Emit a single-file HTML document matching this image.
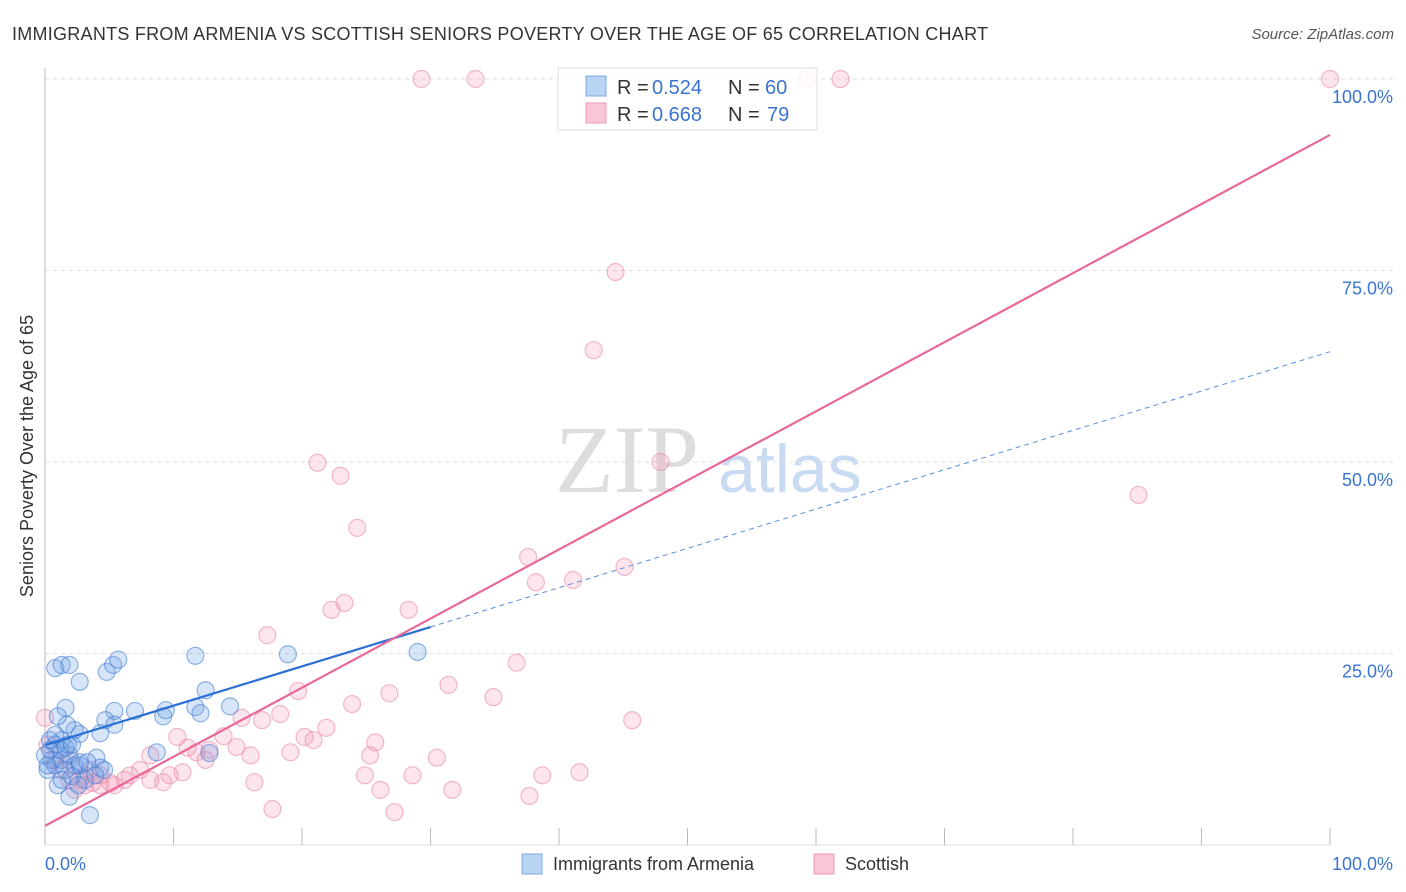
<!DOCTYPE html>
<html><head><meta charset="utf-8"><style>
body{margin:0;background:#fff;font-family:"Liberation Sans",sans-serif;}
#w{position:relative;width:1406px;height:892px;overflow:hidden}
</style></head><body><div id="w">
<svg id="s" width="1406" height="892">
<text x="12" y="40" font-size="18" fill="#333" textLength="976">IMMIGRANTS FROM ARMENIA VS SCOTTISH SENIORS POVERTY OVER THE AGE OF 65 CORRELATION CHART</text>
<text x="1394" y="39" font-size="15" fill="#555" text-anchor="end" font-style="italic">Source: ZipAtlas.com</text>
<text x="33" y="456" font-size="18" fill="#333" text-anchor="middle" transform="rotate(-90 33 456)">Seniors Poverty Over the Age of 65</text>
<text x="555" y="492" font-size="96" fill="#ddd" font-family="Liberation Serif">ZIP</text>
<text x="718" y="492" font-size="68" fill="#c9dbf2">atlas</text>
<g id="grid"></g><g id="pts"></g><g id="lines"></g>
<g>
<rect x="558" y="68" width="259" height="62" fill="#fff" fill-opacity="0.85" stroke="#ddd"/>
<rect x="586" y="76" width="20" height="20" fill="#b9d3f5" stroke="#7fa9e0"/>
<rect x="586" y="103" width="20" height="20" fill="#f9c6d6" stroke="#ee9ab5"/>
<text x="617" y="94" font-size="20" fill="#333">R = </text>
<text x="652" y="94" font-size="20" fill="#3a74d0">0.524</text>
<text x="728" y="94" font-size="20" fill="#333">N = </text>
<text x="765" y="94" font-size="20" fill="#3a74d0">60</text>
<text x="617" y="121" font-size="20" fill="#333">R = </text>
<text x="652" y="121" font-size="20" fill="#3a74d0">0.668</text>
<text x="728" y="121" font-size="20" fill="#333">N = </text>
<text x="767" y="121" font-size="20" fill="#3a74d0">79</text>
</g>
<text x="45" y="870" font-size="18" fill="#3a74d0">0.0%</text>
<text x="1393" y="870" font-size="18" fill="#3a74d0" text-anchor="end">100.0%</text>
<rect x="522" y="854" width="20" height="20" fill="#b9d3f5" stroke="#7fa9e0"/>
<text x="553" y="870" font-size="18" fill="#333">Immigrants from Armenia</text>
<rect x="814" y="854" width="20" height="20" fill="#f9c6d6" stroke="#ee9ab5"/>
<text x="845" y="870" font-size="18" fill="#333">Scottish</text>
</svg></div>
<script>
const yTicks=[25,50,75,100];
const xTicks=[10,20,30,40,50,60,70,80,90,100];
const bluePx=[[55,668],[62,665],[70,665],[80,682],[107,672],[113,665],[118,660],[195,656],[288,654],[418,652],[205,690],[195,707],[200,713],[230,706],[163,716],[166,710],[135,711],[115,711],[106,720],[115,725],[100,733],[80,734],[75,730],[67,725],[65,708],[58,716],[62,740],[55,745],[50,750],[52,760],[48,770],[55,765],[62,760],[70,755],[68,745],[45,755],[97,758],[100,768],[104,770],[85,780],[72,776],[58,785],[70,797],[90,815],[157,752],[210,753],[75,765],[60,750],[50,740],[48,765],[65,770],[80,765],[55,735],[66,748],[72,745],[80,762],[62,780],[78,785],[88,762],[95,775]];
const pinkPx=[[422,79],[475,79],[807,79],[840,79],[1330,79],[615,272],[594,350],[318,463],[340,476],[660,462],[1138,495],[357,528],[528,557],[536,582],[573,580],[624,567],[345,603],[332,610],[409,610],[267,635],[516,663],[298,691],[390,693],[448,685],[493,697],[352,704],[241,718],[262,720],[280,714],[632,720],[327,728],[177,737],[224,736],[314,740],[305,737],[290,752],[210,750],[197,752],[188,748],[237,747],[250,755],[375,742],[370,755],[437,758],[365,775],[413,775],[542,775],[580,772],[183,772],[170,775],[140,770],[130,775],[150,780],[163,782],[125,780],[115,785],[100,785],[110,783],[92,783],[85,775],[80,780],[75,790],[255,782],[380,790],[452,790],[530,796],[273,809],[394,812],[45,718],[48,745],[55,760],[60,770],[70,760],[90,770],[100,775],[70,780],[85,785],[150,755],[205,760]];
const blueX=bluePx.map(p=>+((p[0]-45)/12.85).toFixed(1));
const blueY=bluePx.map(p=>+((845-p[1])/7.66).toFixed(1));
const pinkX=pinkPx.map(p=>+((p[0]-45)/12.85).toFixed(1));
const pinkY=pinkPx.map(p=>+((845-p[1])/7.66).toFixed(1));
const blueLine=[13.05,64.4]; const blueSolidEnd=30;
const pinkLine=[2.5,92.7];
const X=v=>45+v*12.85, Y=v=>845-v*7.66;
const NS="http://www.w3.org/2000/svg";
function mk(t,a,parent){const e=document.createElementNS(NS,t);for(const k in a)e.setAttribute(k,a[k]);parent.appendChild(e);return e;}
const grid=document.getElementById('grid');
mk('line',{x1:45,y1:68,x2:45,y2:845,stroke:'#bbb'},grid);
mk('line',{x1:45,y1:845,x2:1330,y2:845,stroke:'#ddd'},grid);
yTicks.forEach(t=>{
 const l=mk('line',{x1:45,y1:Y(t),x2:1395,y2:Y(t),stroke:'#ddd','stroke-dasharray':'4 4'},grid);
 
 
 const tx=mk('text',{x:1393,y:Y(t)+24,'font-size':18,fill:'#3a74d0','text-anchor':'end'},grid);
 tx.textContent=t.toFixed(1)+'%';
 
 
});
xTicks.forEach(t=>{
 const l=mk('line',{x1:X(t),y1:828,x2:X(t),y2:845,stroke:'#bbb'},grid);
 
 
});
const pts=document.getElementById('pts');
pinkX.forEach((x,i)=>{
 const c=mk('circle',{cx:X(x),cy:Y(pinkY[i]),r:8.5,fill:'rgba(244,150,180,0.25)',stroke:'rgba(232,120,158,0.5)','stroke-width':1.2},pts);
 
 
});
blueX.forEach((x,i)=>{
 const c=mk('circle',{cx:X(x),cy:Y(blueY[i]),r:8.5,fill:'rgba(110,160,230,0.28)',stroke:'rgba(60,120,210,0.55)','stroke-width':1.2},pts);
 
 
});
const lines=document.getElementById('lines');
const by=v=>blueLine[0]+(blueLine[1]-blueLine[0])*v/100;
let l1=mk('line',{x1:X(0),y1:Y(by(0)),x2:X(blueSolidEnd),y2:Y(by(blueSolidEnd)),stroke:'#2a6fd4','stroke-width':2.2},lines);


let l2=mk('line',{x1:X(blueSolidEnd),y1:Y(by(blueSolidEnd)),x2:X(100),y2:Y(by(100)),stroke:'#5a8fdc','stroke-width':1,'stroke-dasharray':'5 4'},lines);


let l3=mk('line',{x1:X(0),y1:Y(pinkLine[0]),x2:X(100),y2:Y(pinkLine[1]),stroke:'#e8689a','stroke-width':2.2},lines);


</script></body></html>
